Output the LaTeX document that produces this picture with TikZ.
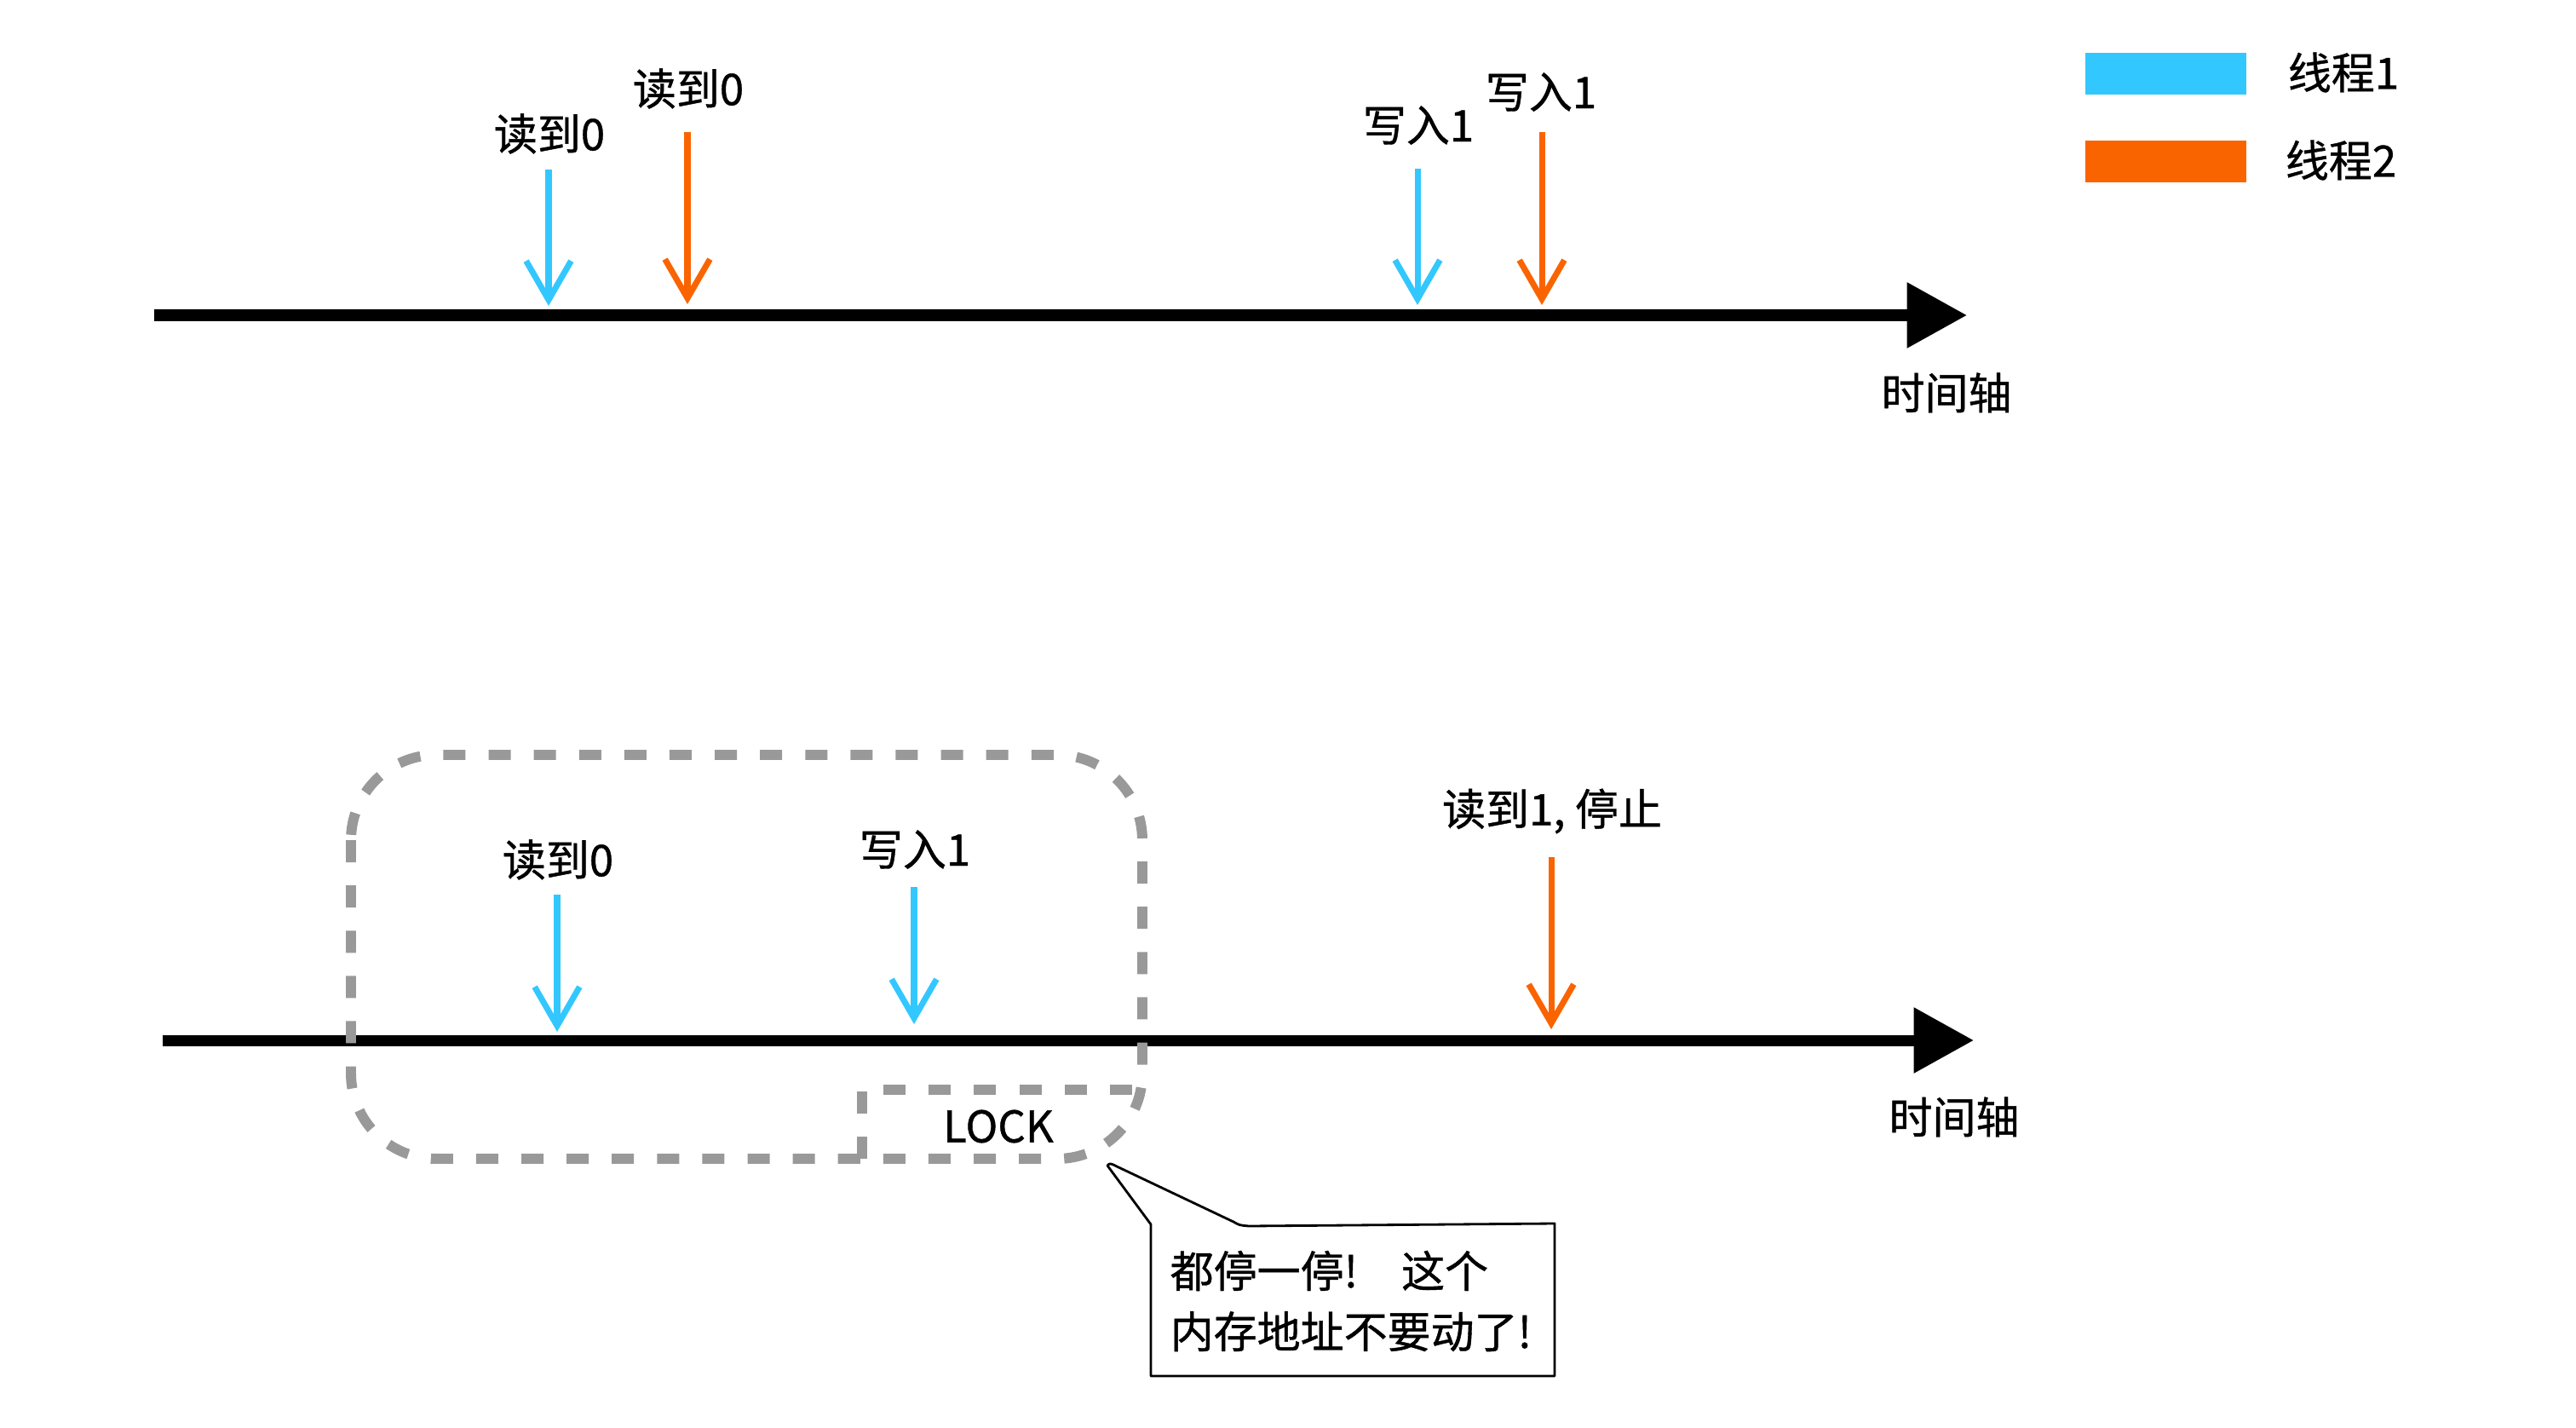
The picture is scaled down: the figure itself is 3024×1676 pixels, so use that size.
\documentclass[tikz,border=0pt]{standalone}
\usepackage{fontspec}
\setmainfont{Noto Sans CJK SC}[RawFeature={embolden=0.8}]
\usetikzlibrary{arrows.meta}
\definecolor{bluethread}{RGB}{51,199,255}
\definecolor{orangethread}{RGB}{250,100,0}
\definecolor{lockgray}{RGB}{153,153,153}

\begin{document}
\begin{tikzpicture}[x=0.01cm,y=-0.01cm,
    every node/.style={inner sep=0pt,font=\fontsize{14.5pt}{20.2pt}\selectfont},
    axis/.style={line width=3.7pt,-{Triangle[length=20pt,width=21pt]}},
    thr1/.style={bluethread,line width=2pt,-{Straight Barb[length=13pt,width=15pt]}},
    thr2/.style={orangethread,line width=2pt,-{Straight Barb[length=13pt,width=15pt]}},
    lockline/.style={lockgray,line width=3.4pt,dash pattern=on 7.4pt off 7.7pt}]
\useasboundingbox (0,0) rectangle (3024,1676);

% time axes
\coordinate (t0) at (181,370);
\coordinate (t1) at (2309,370);
\coordinate (u0) at (191,1221);
\coordinate (u1) at (2317,1221);
\draw[axis] (t0) -- (t1);
\draw[axis] (u0) -- (u1);
\node (tax) at (2285,461) {时间轴};
\node (uax) at (2294,1311) {时间轴};

% events
\foreach \n/\x/\t/\b/\c in {a/644/199/359/thr1, b/807/155/357/thr2,
        c/1664/198/358/thr1, d/1810/155/358/thr2,
        e/654/1050/1211/thr1, f/1073/1041/1202/thr1, g/1821/1006/1208/thr2} {
    \coordinate (\n0) at (\x,\t);
    \coordinate (\n1) at (\x,\b);
    \draw[\c] (\n0) -- (\n1);
}
\node (la) at (645,157) {读到0};
\node (lb) at (808,104) {读到0};
\node (lc) at (1665,147) {写入1};
\node (ld) at (1809,108) {写入1};
\node (le) at (655,1009) {读到0};
\node (lf) at (1074,997) {写入1};
\node (lg) at (1822,952) {读到1, 停止};

% legend
\fill[bluethread] (2448,62) rectangle (2637,111);
\fill[orangethread] (2448,165) rectangle (2637,214);
\node (k1) at (2751,85) {线程1};
\node (k2) at (2748,188) {线程2};

% lock region
\draw[lockline,rounded corners=1cm] (412,886) rectangle (1341,1360);
\draw[lockline] (1012,1360) -- (1012,1279) -- (1341,1279);
\node (lock) at (1172,1322) {LOCK};

% callout
\coordinate (tip) at (1300,1368);
\draw[line width=0.8pt,line join=round] (1351,1437) -- (tip)
    .. controls (1303,1365) .. (1311,1369) -- (1448,1434)
    .. controls (1455,1438) .. (1466,1439) -- (1825,1436)
    -- (1825,1615) -- (1351,1615) -- cycle;
\node[anchor=west,align=left] (msg) at (1373,1527) {都停一停!\quad 这个\\内存地址不要动了!};
\end{tikzpicture}
\end{document}
